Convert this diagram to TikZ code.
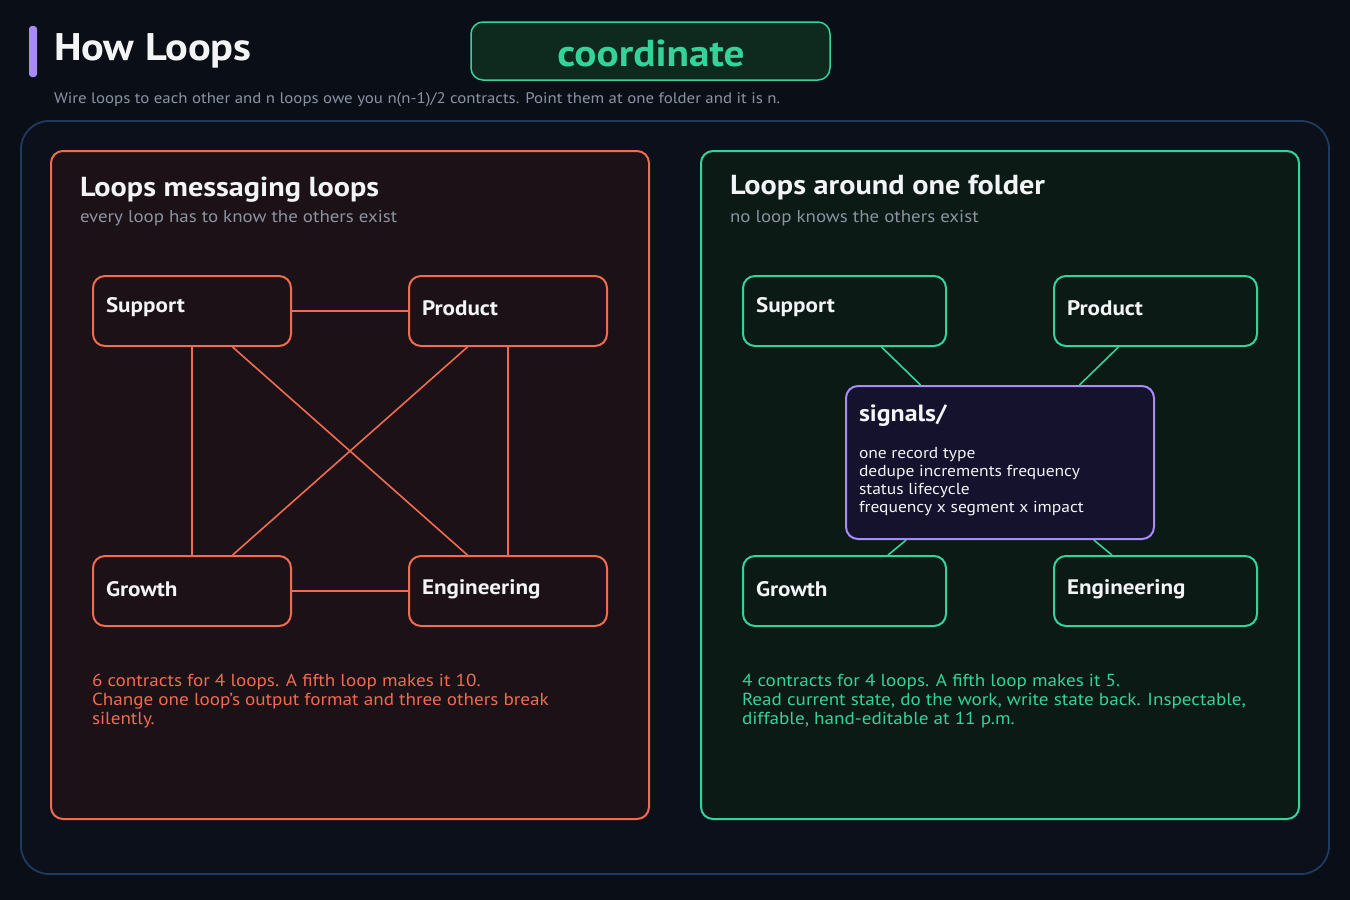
\documentclass[tikz,border=0pt]{standalone}
\usepackage{fontspec}
\setmainfont{PT Sans}[FakeStretch=1.1]
\definecolor{bgc}{HTML}{0A0E17}
\definecolor{outerfill}{HTML}{0B101B}
\definecolor{outerline}{HTML}{1F3A5F}
\definecolor{coral}{HTML}{F06B50}
\definecolor{leftfill}{HTML}{1C1116}
\definecolor{mint}{HTML}{34D399}
\definecolor{rightfill}{HTML}{0B1A15}
\definecolor{pillfill}{HTML}{0E2A1F}
\definecolor{violet}{HTML}{A78BFA}
\definecolor{sigfill}{HTML}{15122E}
\definecolor{graytxt}{HTML}{8B93A3}
\definecolor{whitetxt}{HTML}{F3F4F6}
\begin{document}
\begin{tikzpicture}[x=1pt,y=-1pt,
  txt/.style={anchor=base west, inner sep=0pt, outer sep=0pt},
  panel/.style={draw, line width=2pt, rounded corners=12pt, minimum width=598pt, minimum height=668pt, inner sep=0pt},
  lbox/.style={draw=coral, fill=leftfill, line width=2pt, rounded corners=12pt, minimum width=198pt, minimum height=70pt, inner sep=0pt},
  rbox/.style={draw=mint, fill=rightfill, line width=2pt, rounded corners=12pt, minimum width=203pt, minimum height=70pt, inner sep=0pt},
  boxlabel/.style={txt, text=whitetxt, font=\fontsize{21}{24}\selectfont\bfseries},
  ptitle/.style={txt, text=whitetxt, font=\fontsize{27.5}{32}\selectfont\bfseries},
  psub/.style={txt, text=graytxt, font=\fontsize{17.2}{20}\selectfont},
  ltie/.style={draw=coral, line width=1.6pt},
  rtie/.style={draw=mint, line width=1.6pt},
  note/.style={txt, font=\fontsize{17.4}{20}\selectfont},
  sigline/.style={txt, text=whitetxt, font=\fontsize{15.9}{18}\selectfont}
]
\fill[bgc] (0,0) rectangle (1350,900);
\useasboundingbox (0,0) rectangle (1350,900);

% header
\fill[violet, rounded corners=3pt] (29,26) rectangle (37,77);
\node[txt, text=whitetxt, font=\fontsize{38.5}{44}\selectfont\bfseries] (title) at (54,60) {How Loops};
\node[draw=mint, fill=pillfill, line width=1.5pt, rounded corners=12pt, minimum width=359pt, minimum height=58pt, inner sep=0pt] (pill) at (650.5,51) {};
\node[txt, anchor=base, text=mint, font=\fontsize{37.5}{42}\selectfont\bfseries] (pilltxt) at (651,66) {coordinate};
\node[txt, text=graytxt, font=\fontsize{15.3}{18}\selectfont] (subtitle) at (54,103) {Wire loops to each other and n loops owe you n(n-1)/2 contracts. Point them at one folder and it is n.};

% outer container
\node[draw=outerline, fill=outerfill, line width=1.8pt, rounded corners=28pt, minimum width=1308pt, minimum height=753pt, inner sep=0pt] (outer) at (675,497.5) {};

% left panel
\node[panel, draw=coral, fill=leftfill] (lpanel) at (350,485) {};
\node[ptitle] (ltitle) at (80,196) {Loops messaging loops};
\node[psub] (lsub) at (80,222) {every loop has to know the others exist};

\node[lbox] (lsup) at (192,311) {};
\node[lbox] (lpro) at (508,311) {};
\node[lbox] (lgro) at (192,591) {};
\node[lbox] (leng) at (508,591) {};
\draw[ltie] (lsup) -- (lpro);
\draw[ltie] (lsup) -- (lgro);
\draw[ltie] (lpro) -- (leng);
\draw[ltie] (lgro) -- (leng);
\draw[ltie] (lsup) -- (leng);
\draw[ltie] (lpro) -- (lgro);
\node[boxlabel] (lsupl) at (106,312) {Support};
\node[boxlabel] (lprol) at (422,315) {Product};
\node[boxlabel] (lgrol) at (106,596) {Growth};
\node[boxlabel] (lengl) at (422,594) {Engineering};

\node[note, text=coral] (lnote1) at (92,686) {6 contracts for 4 loops. A fifth loop makes it 10.};
\node[note, text=coral] (lnote2) at (92,705) {Change one loop's output format and three others break};
\node[note, text=coral] (lnote3) at (92,724) {silently.};

% right panel
\node[panel, draw=mint, fill=rightfill] (rpanel) at (1000,485) {};
\node[ptitle] (rtitle) at (730,194) {Loops around one folder};
\node[psub] (rsub) at (730,222) {no loop knows the others exist};

\node[rbox] (rsup) at (844.5,311) {};
\node[rbox] (rpro) at (1155.5,311) {};
\node[rbox] (rgro) at (844.5,591) {};
\node[rbox] (reng) at (1155.5,591) {};
\node[draw=violet, fill=sigfill, line width=2pt, rounded corners=12pt, minimum width=308pt, minimum height=153pt, inner sep=0pt] (sig) at (1000,462.5) {};
\draw[rtie] (rsup) -- (sig);
\draw[rtie] (rpro) -- (sig);
\draw[rtie] (rgro) -- (sig);
\draw[rtie] (reng) -- (sig);
\node[boxlabel] (rsupl) at (756,312) {Support};
\node[boxlabel] (rprol) at (1067,315) {Product};
\node[boxlabel] (rgrol) at (756,596) {Growth};
\node[boxlabel] (rengl) at (1067,594) {Engineering};

\node[boxlabel, font=\fontsize{23.5}{26}\selectfont\bfseries] (sigtitle) at (859,421) {signals/};
\node[sigline] (sig1) at (859,458) {one record type};
\node[sigline] (sig2) at (859,476) {dedupe increments frequency};
\node[sigline] (sig3) at (859,494) {status lifecycle};
\node[sigline] (sig4) at (859,512) {frequency x segment x impact};

\node[note, text=mint] (rnote1) at (742,686) {4 contracts for 4 loops. A fifth loop makes it 5.};
\node[note, text=mint] (rnote2) at (742,705) {Read current state, do the work, write state back. Inspectable,};
\node[note, text=mint] (rnote3) at (742,724) {diffable, hand-editable at 11 p.m.};
\end{tikzpicture}
\end{document}
